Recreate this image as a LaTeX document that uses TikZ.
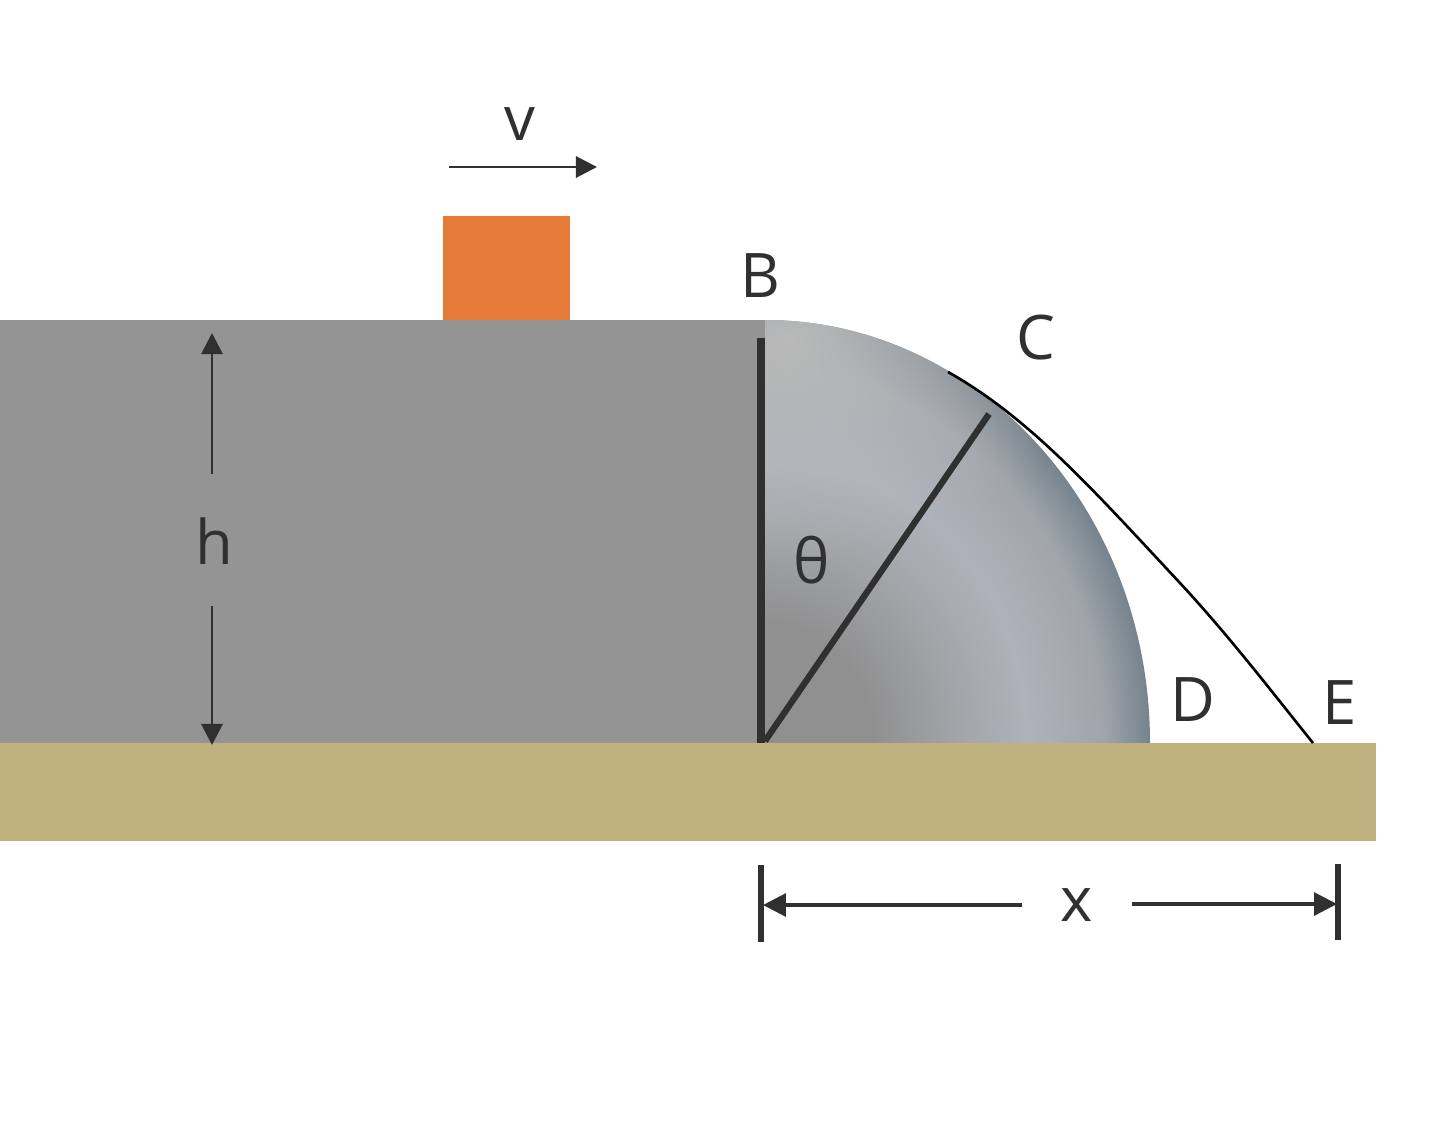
\documentclass[tikz,border=0pt]{standalone}
\usepackage{fontspec}
\setmainfont{Open Sans}
\usetikzlibrary{arrows.meta,fadings}
\definecolor{blockgray}{HTML}{949494}
\definecolor{groundtan}{HTML}{BFB27F}
\definecolor{boxorange}{HTML}{E67A38}
\definecolor{inkdark}{HTML}{303030}
\definecolor{domecentre}{HTML}{909091}
\definecolor{domemid}{HTML}{A4A6A9}
\definecolor{domehigh}{HTML}{AEB2BA}
\definecolor{domeouter}{HTML}{A0A5AB}
\definecolor{domeedge}{HTML}{76838D}
\definecolor{domelight}{HTML}{BABABA}
\pgfdeclareradialshading{domeshade}{\pgfpoint{0bp}{0bp}}{%
  color(0bp)=(domecentre);
  color(7bp)=(domecentre);
  color(13bp)=(domemid);
  color(17bp)=(domehigh);
  color(22bp)=(domeouter);
  color(25bp)=(domeedge);
  color(50bp)=(domeedge)}
\tikzfading[name=softspot,inner color=transparent!0,outer color=transparent!100]
\tikzset{
  x=0.02cm,y=-0.02cm,
  lbl/.style={inner sep=0pt,text=inkdark,font=\fontsize{35}{40}\selectfont},
  thinarrow/.style={draw=inkdark,line width=1.7pt,-{Triangle[length=12pt,width=12pt]}},
  sizearrow/.style={draw=inkdark,line width=1.8pt,-{Triangle[length=13pt,width=13pt]}},
  heavy/.style={draw=inkdark,line width=4pt},
  tick/.style={draw=inkdark,line width=3pt},
  flight/.style={draw=black,line width=1.5pt},
}
\begin{document}
\begin{tikzpicture}
\useasboundingbox (0,0) rectangle (1440,1143);
\fill[white] (0,0) rectangle (1440,1143);
% dome
\begin{scope}
  \clip (765,743) -- (765,320) arc[start angle=90,end angle=0,x radius=385,y radius=-423] -- cycle;
  \shade[shading=domeshade] (765,743) ellipse[x radius=385,y radius=423];
  \fill[domelight,path fading=softspot] (790,340) ellipse[x radius=300,y radius=230];
\end{scope}
% block, ground, box
\fill[blockgray] (0,320) rectangle (765,743);
\fill[groundtan] (0,743) rectangle (1376,841);
\fill[boxorange] (443,216) rectangle (570,320);
% named points
\coordinate (bTop) at (761,338);
\coordinate (bBase) at (761,743);
\coordinate (pivot) at (765,741);
\coordinate (cRim) at (989,414);
\coordinate (flightStart) at (948,372);
\coordinate (flightMid) at (1180,583);
\coordinate (flightEnd) at (1313,743);
\coordinate (vStart) at (449,167);
\coordinate (vEnd) at (597,167);
\coordinate (hUpStart) at (212,474);
\coordinate (hUpEnd) at (212,333);
\coordinate (hDownStart) at (212,606);
\coordinate (hDownEnd) at (212,745);
\coordinate (xLeftStart) at (1022,905);
\coordinate (xLeftEnd) at (763,905);
\coordinate (xRightStart) at (1132,904);
\coordinate (xRightEnd) at (1337,904);
\coordinate (tickLTop) at (761,865);
\coordinate (tickLBot) at (761,942);
\coordinate (tickRTop) at (1338,864);
\coordinate (tickRBot) at (1338,940);
% structure lines
\draw[heavy] (bTop) -- (bBase);
\draw[heavy,line width=3.6pt] (pivot) -- (cRim);
\draw[flight] (flightStart) .. controls (1030,418) and (1095,492) .. (flightMid) .. controls (1230,637) and (1272,692) .. (flightEnd);
% arrows
\draw[thinarrow] (vStart) -- (vEnd);
\draw[thinarrow] (hUpStart) -- (hUpEnd);
\draw[thinarrow] (hDownStart) -- (hDownEnd);
\draw[sizearrow] (xLeftStart) -- (xLeftEnd);
\draw[sizearrow] (xRightStart) -- (xRightEnd);
\draw[tick] (tickLTop) -- (tickLBot);
\draw[tick] (tickRTop) -- (tickRBot);
% labels
\node[lbl] (lv) at (520,124) {v};
\node[lbl] (lB) at (760,276) {B};
\node[lbl] (lC) at (1036,338) {C};
\node[lbl] (lD) at (1193,700) {D};
\node[lbl] (lE) at (1340,703) {E};
\node[lbl] (lh) at (214,541) {h};
\node[lbl] (lt) at (812,560) {θ};
\node[lbl] (lx) at (1077,905) {x};
\end{tikzpicture}
\end{document}
